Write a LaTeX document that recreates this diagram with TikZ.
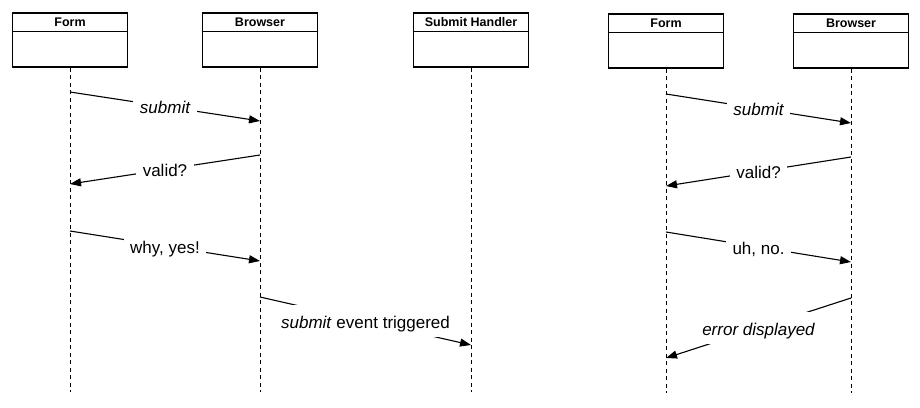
\documentclass[tikz,border=0pt]{standalone}
\usepackage{fontspec}
\setmainfont{Liberation Sans}
\usetikzlibrary{arrows.meta,calc}
\begin{document}
\begin{tikzpicture}[x=1pt,y=-1pt,
  actor/.style={draw, line width=1.1pt, minimum width=115pt, minimum height=54pt, inner sep=0pt, fill=white},
  hdr/.style={font=\fontsize{12.5}{14}\selectfont\bfseries, inner sep=0pt},
  life/.style={line width=0.9pt, dash pattern=on 4pt off 3.5pt},
  msg/.style={line width=1.1pt, -{Triangle[length=11pt,width=8pt]}},
  lbl/.style={fill=white, inner xsep=6.5pt, inner ysep=9pt, text height=14pt, text depth=0pt, font=\fontsize{17}{20}\selectfont}]
\useasboundingbox (0,0) rectangle (920,407);

% ---- actors (left group)
\node[actor] (fa) at (70,40) {};
\node[actor] (fb) at (260,40) {};
\node[actor] (fh) at (471,40) {};
% ---- actors (right group)
\node[actor] (ra) at (666,41) {};
\node[actor] (rb) at (851,41) {};

\foreach \n/\t in {fa/Form, fb/Browser, fh/Submit Handler, ra/Form, rb/Browser}{
  \draw[line width=1.1pt] ($(\n.north west)+(0,19)$) -- ($(\n.north east)+(0,19)$);
  \node[hdr] (\n-t) at ($(\n.north)+(0,9.5)$) {\t};
}

% ---- lifelines
\coordinate (fa-e) at (fa.south |- 0,392);
\coordinate (fb-e) at (fb.south |- 0,392);
\coordinate (fh-e) at (fh.south |- 0,392);
\coordinate (ra-e) at (ra.south |- 0,393);
\coordinate (rb-e) at (rb.south |- 0,393);
\foreach \n in {fa,fb,fh,ra,rb}{
  \draw[life] (\n.south) -- (\n-e);
}

% ---- message end points
\coordinate (a1) at (fa.south |- 0,92);
\coordinate (b1) at (fb.south |- 0,121);
\coordinate (b2) at (fb.south |- 0,155);
\coordinate (a2) at (fa.south |- 0,184);
\coordinate (a3) at (fa.south |- 0,231);
\coordinate (b3) at (fb.south |- 0,261);
\coordinate (b4) at (fb.south |- 0,297);
\coordinate (h4) at (fh.south |- 0,345);

\coordinate (c1) at (ra.south |- 0,94);
\coordinate (d1) at (rb.south |- 0,123);
\coordinate (d2) at (rb.south |- 0,157);
\coordinate (c2) at (ra.south |- 0,186);
\coordinate (c3) at (ra.south |- 0,232);
\coordinate (d3) at (rb.south |- 0,262);
\coordinate (d4) at (rb.south |- 0,298);
\coordinate (c4) at (ra.south |- 0,358);

% ---- messages (left)
\draw[msg] (a1) -- node[lbl] (l1) {\itshape submit} (b1);
\draw[msg] (b2) -- node[lbl] (l2) {valid?} (a2);
\draw[msg] (a3) -- node[lbl] (l3) {why, yes!} (b3);
\draw[msg] (b4) -- node[lbl] (l4) {\textit{submit} event triggered} (h4);

% ---- messages (right)
\draw[msg] (c1) -- node[lbl] (l5) {\itshape submit} (d1);
\draw[msg] (d2) -- node[lbl] (l6) {valid?} (c2);
\draw[msg] (c3) -- node[lbl] (l7) {uh, no.} (d3);
\draw[msg] (d4) -- node[lbl] (l8) {\itshape error displayed} (c4);
\end{tikzpicture}
\end{document}
